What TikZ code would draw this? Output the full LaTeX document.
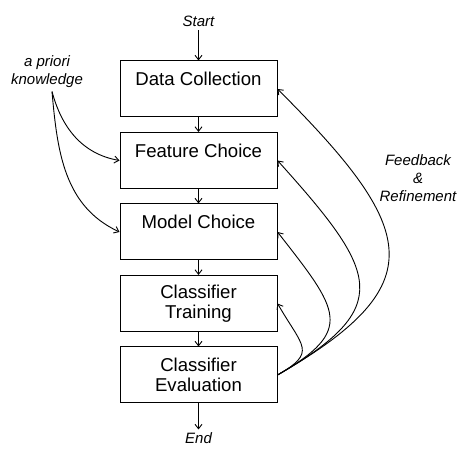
\documentclass[tikz,border=0pt]{standalone}
\usepackage{fontspec}
\setmainfont{Liberation Sans}
\usetikzlibrary{positioning,arrows.meta}
\tikzset{
  >={Straight Barb[length=4.5pt,width=7pt]},
  stage/.style={draw, line width=1pt, minimum width=157pt, minimum height=56pt,
    align=center, font=\fontsize{18.6}{20}\selectfont},
  note/.style={align=center, font=\fontsize{15}{18}\selectfont\itshape},
  flow/.style={->, line width=0.9pt},
}

\begin{document}
\begin{tikzpicture}[x=1pt, y=1pt, node distance=14.5pt]
  \useasboundingbox (0,0) rectangle (460,449);

  % process chain
  \node[stage] (data) at (198.5,360) {Data Collection\\~};
  \node[stage, below=of data] (feature) {Feature Choice\\~};
  \node[stage, below=of feature] (model) {Model Choice\\~};
  \node[stage, below=of model] (train) {Classifier\\Training};
  \node[stage, below=of train] (eval) {Classifier\\Evaluation};

  \node[note, above=30pt of data] (start) {Start};
  \node[note, below=26pt of eval] (end) {End};

  \draw[flow] (start) -- (data);
  \foreach \a/\b in {data/feature, feature/model, model/train, train/eval}
    \draw[flow] (\a) -- (\b);
  \draw[flow] (eval) -- (end);

  % prior knowledge
  \node[note] (prior) at (47,377) {a priori\\knowledge};
  \draw[flow] ([xshift=5pt]prior.south) to[out=-75, in=170] (feature.west);
  \draw[flow] ([xshift=5pt]prior.south) to[out=-85, in=155] (model.west);

  % feedback loops
  \node[note] (fb) at (418,271) {Feedback\\\&\\Refinement};
  \draw[flow] (eval.east) .. controls +(30:180) and +(-45:200) .. (data.east);
  \draw[flow] (eval.east) .. controls +(30:136) and +(-48:151) .. (feature.east);
  \draw[flow] (eval.east) .. controls +(30:90) and +(-52:100) .. (model.east);
  \draw[flow] (eval.east) .. controls +(30:46) and +(-60:51) .. (train.east);
\end{tikzpicture}
\end{document}
